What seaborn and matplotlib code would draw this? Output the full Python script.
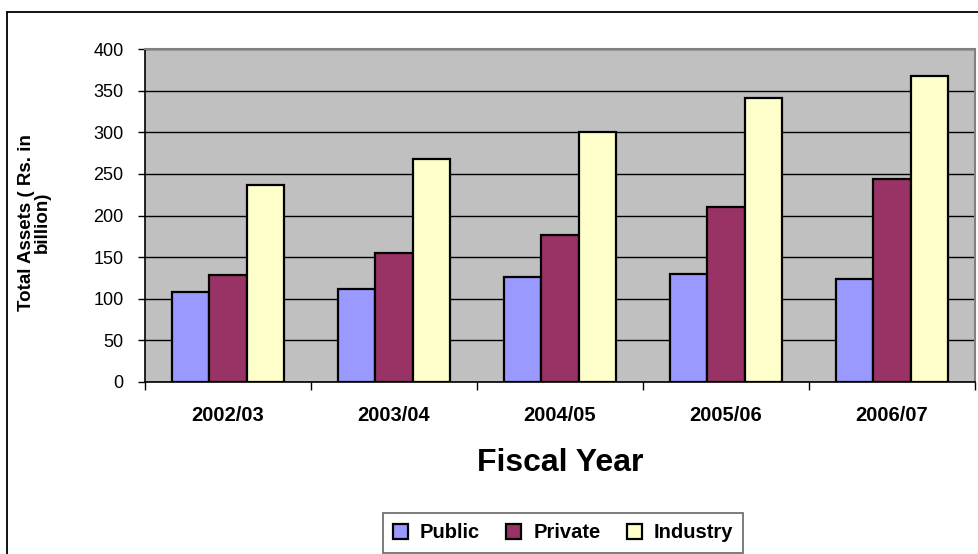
import matplotlib
matplotlib.use("Agg")
import matplotlib.pyplot as plt
from matplotlib.lines import Line2D
from matplotlib.ticker import FixedLocator
import numpy as np
import pandas as pd
import seaborn as sns

# Total assets by ownership group (Rs. in billion)
years = ["2002/03", "2003/04", "2004/05", "2005/06", "2006/07"]
public = [108, 112, 126, 130, 124]
private = [128, 155, 176, 210, 244]
industry = [237, 268, 300, 341, 368]
sectors = ["Public", "Private", "Industry"]
colors = ["#9999FF", "#993366", "#FFFFCC"]
y_ticks = [0, 50, 100, 150, 200, 250, 300, 350, 400]

df = pd.DataFrame({
    "year": years * 3,
    "sector": [s for s in sectors for _ in years],
    "value": public + private + industry,
})

sns.set_theme(style="white")
plt.rcParams["font.family"] = ["Liberation Sans", "DejaVu Sans"]
plt.rcParams.update({
    "text.color": "black",
    "axes.labelcolor": "black",
    "xtick.color": "black",
    "ytick.color": "black",
})

fig = plt.figure(figsize=(9.79, 5.54), dpi=100)
ax = fig.add_axes([145 / 979, 1 - 382 / 554, 830 / 979, 333 / 554])
ax.set_facecolor("#C0C0C0")

sns.barplot(
    data=df, x="year", y="value", hue="sector", order=years, hue_order=sectors,
    palette=colors, width=0.675, edgecolor="black", linewidth=1.6,
    saturation=1, ax=ax, zorder=3,
)

# value axis
ax.set_ylim(0, 400)
ax.set_yticks(y_ticks)
ax.set_yticklabels([str(t) for t in y_ticks], fontsize=13)
ax.yaxis.grid(True, color="black", linewidth=1.0)
ax.set_axisbelow(True)
ax.tick_params(axis="y", which="major", direction="out", length=5, width=1,
               color="black", pad=10.5, left=True)

# category axis: labels centred, ticks on group boundaries
ax.set_xlim(-0.5, len(years) - 0.5)
ax.tick_params(axis="x", which="major", length=0, pad=17)
ax.xaxis.set_minor_locator(FixedLocator(np.arange(-0.5, len(years), 1.0)))
ax.tick_params(axis="x", which="minor", direction="out", length=6, width=1,
               color="black", bottom=True)
for lbl in ax.get_xticklabels():
    lbl.set_fontsize(14.5)
    lbl.set_fontweight("bold")

for side in ("left", "bottom"):
    ax.spines[side].set_color("black")
    ax.spines[side].set_linewidth(1.2)
for side in ("top", "right"):
    ax.spines[side].set_color("#808080")
    ax.spines[side].set_linewidth(1.5)

ax.set_xlabel("Fiscal Year", fontsize=23, fontweight="bold", labelpad=17)
ax.set_ylabel("Total Assets ( Rs. in\nbillion)", fontsize=13.5, fontweight="bold",
              multialignment="center", linespacing=0.95)
ax.yaxis.set_label_coords(-0.113, 0.48)

# legend below the chart
handles, labels = ax.get_legend_handles_labels()
ax.get_legend().remove()
leg = fig.legend(
    handles, labels, loc="center", bbox_to_anchor=(563 / 979, 1 - 533 / 554),
    ncol=3, frameon=True, fancybox=False, handlelength=0.75,
    handleheight=0.75, handletextpad=0.6, columnspacing=1.3, borderpad=0.5,
    prop={"weight": "bold", "size": 14.5},
)
leg.get_frame().set_edgecolor("#404040")
leg.get_frame().set_linewidth(1.2)
for h in leg.legend_handles:
    h.set_edgecolor("black")
    h.set_linewidth(1.6)

# outer chart border (top and left)
fig.add_artist(Line2D([7.5 / 979, 1.0], [1 - 12 / 554, 1 - 12 / 554],
                      transform=fig.transFigure, color="black", linewidth=1.3))
fig.add_artist(Line2D([7.5 / 979, 7.5 / 979], [0.0, 1 - 12 / 554],
                      transform=fig.transFigure, color="black", linewidth=1.3))

fig.savefig("out.png", dpi=100, facecolor="white")
